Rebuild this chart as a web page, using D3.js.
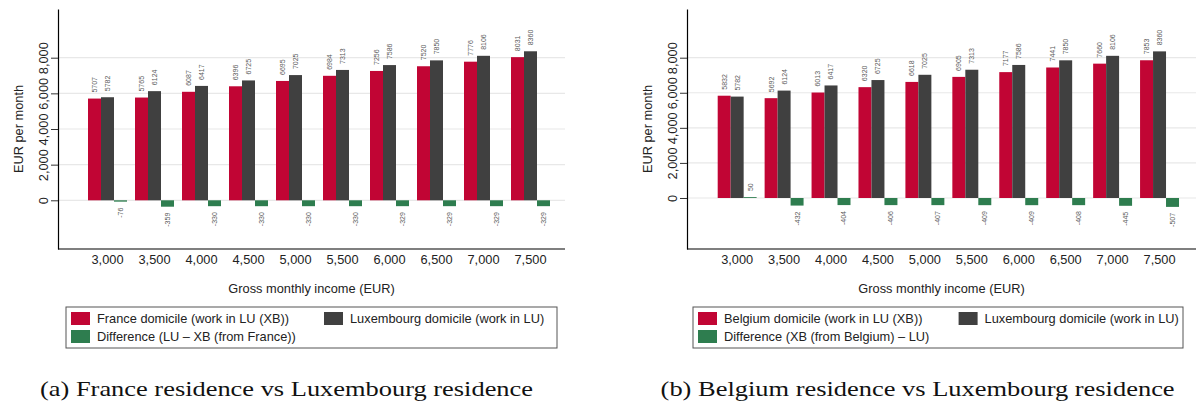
<!DOCTYPE html>
<html>
<head>
<meta charset="utf-8">
<script src="https://cdn.jsdelivr.net/npm/d3@7"></script>
<style>
  html, body { margin: 0; padding: 0; background: #fff; }
  svg { display: block; }
</style>
</head>
<body>
<svg id="chart" width="1196" height="403"></svg>
<script>
// ---------------- DATA ----------------
const incomes = ["3,000","3,500","4,000","4,500","5,000","5,500","6,000","6,500","7,000","7,500"];
const yTicks = [0, 2000, 4000, 6000, 8000];

const franceXB   = [5707, 5765, 6087, 6396, 6695, 6984, 7256, 7520, 7776, 8031];
const luxA       = [5782, 6124, 6417, 6725, 7025, 7313, 7586, 7850, 8106, 8360];
const diffA      = [-76, -359, -330, -330, -330, -330, -329, -329, -329, -329];

const belgiumXB  = [5832, 5692, 6013, 6320, 6618, 6905, 7177, 7441, 7660, 7853];
const luxB       = [5782, 6124, 6417, 6725, 7025, 7313, 7586, 7850, 8106, 8360];
const diffB      = [50, -432, -404, -406, -407, -409, -409, -408, -445, -507];

const seriesNamesA = ["France domicile (work in LU (XB))", "Luxembourg domicile (work in LU)", "Difference (LU \u2013 XB (from France))"];
const seriesNamesB = ["Belgium domicile (work in LU (XB))", "Luxembourg domicile (work in LU)", "Difference (XB (from Belgium) \u2013 LU)"];
const captionA = "(a) France residence vs Luxembourg residence";
const captionB = "(b) Belgium residence vs Luxembourg residence";

// ---------------- STYLE ----------------
const colors = ["#c10534", "#404040", "#2e7d4f"];
const strokes = ["#d4667f", "#8a8a8a", "#7fb08f"];
const sans = "'Liberation Sans', Arial, sans-serif";
const serif = "'Liberation Serif', 'Times New Roman', serif";

const svg = d3.select("#chart");

function drawPanel(cfg) {
  const g = svg.append("g");
  const yTop = 9, yBot = 249;
  const y = d3.scaleLinear().domain(cfg.yDomain).range([yBot, yTop]);

  const x0 = d3.scaleBand().domain(incomes).range(cfg.bandRange)
    .paddingInner(8/47).paddingOuter(4/47);
  const x1 = d3.scaleBand().domain([0,1,2]).range([0, x0.bandwidth()]);

  // gridlines
  g.append("g").selectAll("line").data(yTicks).join("line")
    .attr("x1", cfg.plotX0).attr("x2", cfg.plotX1)
    .attr("y1", d => y(d)).attr("y2", d => y(d))
    .attr("stroke", "#e8e8e8").attr("stroke-width", 1.2);

  // bars
  const series = [cfg.s0, cfg.s1, cfg.s2];
  const data = [];
  incomes.forEach((inc, i) => {
    series.forEach((s, k) => data.push({inc, k, v: s[i]}));
  });
  g.append("g").selectAll("rect").data(data).join("rect")
    .attr("x", d => x0(d.inc) + x1(d.k))
    .attr("width", x1.bandwidth())
    .attr("y", d => y(Math.max(0, d.v)))
    .attr("height", d => Math.abs(y(d.v) - y(0)))
    .attr("fill", d => colors[d.k]);

  // value labels
  const fs = 7;
  g.append("g").selectAll("text").data(data).join("text")
    .attr("transform", d => {
      const cx = x0(d.inc) + x1(d.k) + x1.bandwidth()/2;
      const yy = d.v >= 0 ? y(d.v) - 6 : y(d.v) + 6;
      return `translate(${cx},${yy}) rotate(-90)`;
    })
    .attr("dy", "0.35em")
    .attr("text-anchor", d => d.v >= 0 ? "start" : "end")
    .attr("font-family", sans).attr("font-size", fs)
    .attr("fill", "#5a5a5a")
    .text(d => d.v);

  // y axis
  const yAxis = d3.axisLeft(y).tickValues(yTicks).tickFormat(d3.format(","))
    .tickSize(7).tickSizeOuter(0).tickPadding(4);
  const ya = g.append("g").attr("transform", `translate(${cfg.plotX0},0)`).call(yAxis);
  ya.select(".domain").attr("stroke", "#000").attr("stroke-width", 1.2);
  ya.selectAll(".tick line").attr("stroke", "#333");
  ya.selectAll(".tick text")
    .attr("font-family", sans).attr("font-size", 12.8).attr("fill", "#222")
    .attr("x", null).attr("dy", null)
    .attr("text-anchor", "middle")
    .attr("transform", "translate(-10,0) rotate(-90)")
    .attr("y", 0);

  // x axis
  const xAxis = d3.axisBottom(x0).tickSize(0).tickSizeOuter(0).tickPadding(6);
  const xa = g.append("g").attr("transform", `translate(0,${yBot})`).call(xAxis);
  xa.select(".domain").remove();
  xa.selectAll(".tick text").attr("font-family", sans).attr("font-size", 12.8).attr("fill", "#222");
  g.append("line").attr("x1", cfg.plotX0).attr("x2", cfg.plotX1)
    .attr("y1", yBot).attr("y2", yBot).attr("stroke", "#000").attr("stroke-width", 1.2);

  const midX = (cfg.plotX0 + cfg.plotX1) / 2;
  // axis titles
  g.append("text").attr("x", midX).attr("y", 292.5).attr("text-anchor", "middle")
    .attr("font-family", sans).attr("font-size", 12.8).attr("fill", "#222")
    .text("Gross monthly income (EUR)");
  g.append("text")
    .attr("transform", `translate(${cfg.plotX0 - 35},${(yTop + yBot)/2}) rotate(-90)`)
    .attr("text-anchor", "middle")
    .attr("font-family", sans).attr("font-size", 12.8).attr("fill", "#222")
    .text("EUR per month");

  // legend
  const L = cfg.legend;
  g.append("rect").attr("x", L.x).attr("y", 307).attr("width", L.w).attr("height", 41)
    .attr("fill", "#fff").attr("stroke", "#555").attr("stroke-width", 1);
  const items = [
    {k: 0, x: L.x + 5, y: 312},
    {k: 1, x: L.col2, y: 312},
    {k: 2, x: L.x + 5, y: 330}
  ];
  const li = g.append("g").selectAll("g").data(items).join("g")
    .attr("transform", d => `translate(${d.x},${d.y})`);
  li.append("rect").attr("width", 19).attr("height", 13).attr("fill", d => colors[d.k]);
  li.append("text").attr("x", 26).attr("y", 11)
    .attr("font-family", sans).attr("font-size", 12.8).attr("fill", "#222")
    .text(d => cfg.names[d.k]);

  // caption
  g.append("text").attr("x", cfg.capX).attr("y", 396).attr("text-anchor", "middle")
    .attr("font-family", serif).attr("font-size", 21).attr("fill", "#111")
    .attr("textLength", cfg.capW).attr("lengthAdjust", "spacingAndGlyphs")
    .text(cfg.caption);
}

drawPanel({
  s0: franceXB, s1: luxA, s2: diffA, names: seriesNamesA, caption: captionA,
  yDomain: [-2732, 10732], plotX0: 58, plotX1: 565, bandRange: [84, 554],
  legend: {x: 66, w: 491, col2: 324}, capX: 286.5, capW: 493
});
drawPanel({
  s0: belgiumXB, s1: luxB, s2: diffB, names: seriesNamesB, caption: captionB,
  yDomain: [-2908, 10776], plotX0: 687, plotX1: 1196, bandRange: [713.7, 1183],
  legend: {x: 693, w: 490, col2: 958.6}, capX: 917.6, capW: 514
});
</script>
</body>
</html>
